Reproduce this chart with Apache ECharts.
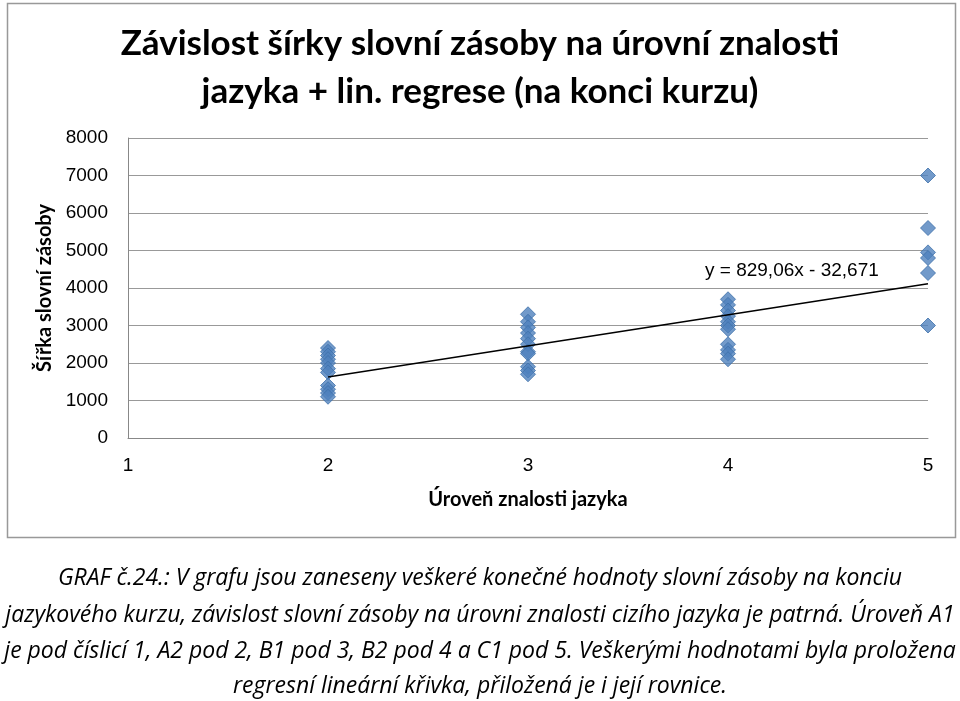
<!DOCTYPE html>
<html>
<head>
<meta charset="utf-8">
<script src="https://cdn.jsdelivr.net/npm/echarts@6/dist/echarts.min.js"></script>
<style>
html,body{margin:0;padding:0;background:#fff;}
#chart{width:960px;height:701px;}
</style>
</head>
<body>
<div id="chart"></div>
<script>
// Data
const level2 = [2400, 2300, 2200, 2100, 2000, 1850, 1750, 1400, 1300, 1200, 1100];
const level3 = [3300, 3100, 2950, 2800, 2650, 2500, 2300, 2250, 1900, 1800, 1700];
const level4 = [3700, 3550, 3400, 3250, 3100, 3000, 2900, 2500, 2350, 2250, 2100];
const level5 = [7000, 5600, 4950, 4800, 4400, 3000];
const xTicks = [1, 2, 3, 4, 5];
const yTicks = [0, 1000, 2000, 3000, 4000, 5000, 6000, 7000, 8000];
const slope = 829.06;
const intercept = -32.671;
const trendRange = [2, 5];
const titleLines = ['Závislost šírky slovní zásoby na úrovní znalosti', 'jazyka + lin. regrese (na konci kurzu)'];
const equationText = 'y = 829,06x - 32,671';
const xName = 'Úroveň znalosti jazyka';
const yName = 'Šířka slovní zásoby';
const captionLines = [
  'GRAF č.24.: V grafu jsou zaneseny veškeré konečné hodnoty slovní zásoby na konciu',
  'jazykového kurzu, závislost slovní zásoby na úrovni znalosti cizího jazyka je patrná. Úroveň A1',
  'je pod číslicí 1, A2 pod 2, B1 pod 3, B2 pod 4 a C1 pod 5. Veškerými hodnotami byla proložena',
  'regresní lineární křivka, přiložená je i její rovnice.'
];

const points = [];
[[2, level2], [3, level3], [4, level4], [5, level5]].forEach(([x, arr]) => arr.forEach(v => points.push([x, v])));
const trend = trendRange.map(x => [x, slope * x + intercept]);

const cal = 'Lato, "Open Sans", sans-serif';
const ari = '"Liberation Sans", Arial, sans-serif';
const captionFont = 'italic 23px "Open Sans", Lato, sans-serif';
const captionY = [578, 615, 651, 686];

const captionGraphics = captionLines.map((t, i) => ({
  type: 'text', x: 480, y: captionY[i],
  style: {text: t, font: captionFont, fill: '#000', align: 'center', verticalAlign: 'middle'}
}));

const chart = echarts.init(document.getElementById('chart'), null, {renderer: 'canvas'});
chart.setOption({
  animation: false,
  backgroundColor: '#fff',
  grid: {left: 128, right: 32, top: 138, bottom: 263, containLabel: false},
  xAxis: {
    type: 'value', min: xTicks[0], max: xTicks[xTicks.length - 1], interval: 1,
    name: xName, nameLocation: 'middle', nameGap: 52,
    nameTextStyle: {fontFamily: cal, fontWeight: 'bold', fontSize: 20, color: '#000'},
    axisLine: {show: true, lineStyle: {color: '#888', width: 1}},
    axisTick: {show: false},
    axisLabel: {fontFamily: ari, fontSize: 19, color: '#000', margin: 18, formatter: v => String(v)},
    splitLine: {show: false}
  },
  yAxis: {
    type: 'value', min: yTicks[0], max: yTicks[yTicks.length - 1], interval: 1000,
    name: yName, nameLocation: 'middle', nameGap: 70, nameRotate: 90,
    nameTextStyle: {fontFamily: cal, fontWeight: 'bold', fontSize: 20, color: '#000'},
    axisLine: {show: true, lineStyle: {color: '#888', width: 1}},
    axisTick: {show: false},
    axisLabel: {fontFamily: ari, fontSize: 19, color: '#000', margin: 20, formatter: v => String(v)},
    splitLine: {show: true, lineStyle: {color: '#999', width: 1}}
  },
  title: {
    text: titleLines.join('\n'), left: 'center', top: 15,
    textStyle: {fontFamily: cal, fontWeight: 'bold', fontSize: 35, lineHeight: 48, color: '#000'}
  },
  graphic: [
    {type: 'rect', shape: {x: 7.5, y: 3.5, width: 948, height: 534}, style: {fill: 'none', stroke: '#999', lineWidth: 1.5}, z: -1},
    {type: 'text', left: 705, top: 261, style: {text: equationText, font: '19px ' + ari, fill: '#000'}}
  ].concat(captionGraphics),
  series: [
    {type: 'scatter', data: points, symbol: 'diamond', symbolSize: 15,
     itemStyle: {color: '#4f81bd', borderColor: '#3f70aa', borderWidth: 1}, z: 3},
    {type: 'line', data: trend, symbol: 'none', lineStyle: {color: '#000', width: 1.5}, z: 4}
  ]
});
</script>
</body>
</html>
